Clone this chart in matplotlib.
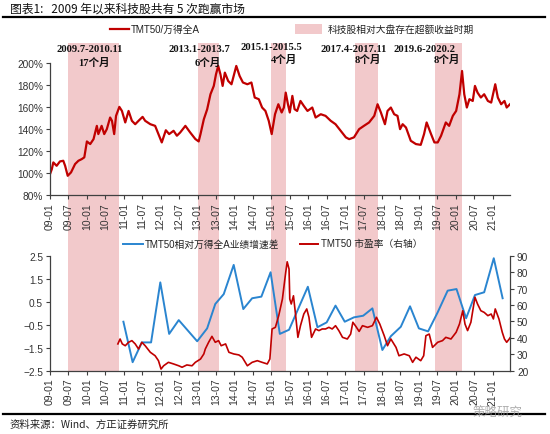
import matplotlib
matplotlib.use("Agg")
import matplotlib.pyplot as plt
from matplotlib.lines import Line2D
from matplotlib.patches import Rectangle

plt.rcParams['font.family'] = ['Liberation Sans', 'Noto Sans CJK SC', 'DejaVu Sans']

# ---------------- data ----------------
# TMT50 / Wind All A (%), x in decimal years
ratio_t = [2009.00, 2009.05, 2009.09, 2009.18, 2009.27, 2009.36, 2009.41, 2009.48, 2009.57, 2009.68,
           2009.77, 2009.86, 2009.93, 2010.00, 2010.09, 2010.18, 2010.27, 2010.31, 2010.40, 2010.47,
           2010.54, 2010.63, 2010.68, 2010.74, 2010.79, 2010.88, 2010.95, 2011.04, 2011.13, 2011.22,
           2011.31, 2011.40, 2011.51, 2011.58, 2011.72, 2011.85, 2011.94, 2012.03, 2012.14, 2012.23,
           2012.35, 2012.44, 2012.53, 2012.67, 2012.80, 2012.94, 2013.03, 2013.08, 2013.17, 2013.26,
           2013.35, 2013.44, 2013.50, 2013.56, 2013.62, 2013.68, 2013.74, 2013.83, 2013.92, 2013.98,
           2014.05, 2014.14, 2014.23, 2014.35, 2014.46, 2014.55, 2014.66, 2014.75, 2014.84, 2014.93,
           2015.01, 2015.10, 2015.19, 2015.28, 2015.34, 2015.39, 2015.45, 2015.50, 2015.57, 2015.63,
           2015.70, 2015.79, 2015.88, 2015.98, 2016.11, 2016.20, 2016.34, 2016.47, 2016.61, 2016.74,
           2016.88, 2017.02, 2017.11, 2017.24, 2017.38, 2017.51, 2017.65, 2017.79, 2017.88, 2017.97,
           2018.08, 2018.15, 2018.24, 2018.33, 2018.42, 2018.49, 2018.56, 2018.65, 2018.78, 2018.92,
           2019.05, 2019.14, 2019.21, 2019.33, 2019.42, 2019.51, 2019.60, 2019.73, 2019.82, 2019.92,
           2020.01, 2020.10, 2020.17, 2020.23, 2020.30, 2020.37, 2020.46, 2020.52, 2020.59, 2020.68,
           2020.77, 2020.87, 2020.96, 2021.07, 2021.14, 2021.23, 2021.32, 2021.38, 2021.47]
ratio_v = [99.0, 103.6, 109.7, 106.6, 110.6, 111.2, 106.6, 97.5, 100.6, 108.2,
           111.2, 112.7, 114.3, 128.8, 126.4, 130.9, 143.0, 135.5, 143.0, 135.5,
           140.0, 150.6, 147.6, 135.5, 152.1, 160.3, 156.6, 146.1, 156.6, 147.6,
           144.5, 147.6, 151.2, 147.6, 144.5, 143.0, 135.5, 127.9, 139.0, 135.5,
           138.5, 134.0, 137.0, 143.0, 137.0, 131.0, 128.8, 135.5, 149.0, 158.0,
           171.8, 179.4, 190.0, 197.6, 190.0, 179.4, 191.5, 183.9, 180.9, 188.5,
           197.6, 188.5, 182.5, 180.9, 182.5, 168.8, 167.3, 159.7, 156.6, 147.6,
           135.5, 153.6, 162.7, 155.2, 159.7, 173.3, 162.7, 155.2, 170.3, 158.2,
           156.6, 165.7, 161.2, 156.6, 159.7, 150.6, 153.6, 152.1, 147.6, 144.5,
           138.5, 132.5, 130.9, 132.5, 140.0, 143.0, 146.1, 152.1, 162.7, 155.2,
           144.5, 156.6, 159.7, 153.6, 152.1, 140.0, 144.5, 141.5, 129.4, 126.4,
           125.7, 135.5, 146.1, 135.5, 127.9, 127.9, 133.9, 146.1, 143.0, 152.1,
           156.6, 171.8, 193.0, 171.8, 159.7, 167.3, 165.7, 179.4, 173.3, 168.8,
           171.8, 165.7, 164.2, 180.9, 168.8, 162.7, 165.7, 159.7, 162.7]

# Earnings growth gap (left axis), quarterly
gap_t = [2010.99, 2011.24, 2011.49, 2011.74, 2011.99, 2012.23, 2012.49, 2012.74, 2012.99, 2013.26,
         2013.48, 2013.71, 2013.98, 2014.24, 2014.48, 2014.73, 2014.98, 2015.23, 2015.48, 2015.99,
         2016.25, 2016.50, 2016.74, 2016.99, 2017.24, 2017.49, 2017.74, 2018.01, 2018.24, 2018.51,
         2018.76, 2019.00, 2019.25, 2019.51, 2019.78, 2020.02, 2020.28, 2020.52, 2020.77, 2021.03,
         2021.27]
gap_v = [-0.37, -2.13, -1.27, -1.27, 1.34, -0.90, -0.30, -0.76, -1.22, -0.66,
         0.40, 0.83, 2.10, 0.18, 0.65, 0.72, 1.78, -0.90, -0.72, 1.15,
         -0.61, -0.40, 0.33, -0.37, -0.18, -0.11, 0.21, -1.60, -1.00, -0.59,
         0.30, -0.66, -0.79, 0.04, 0.98, 1.05, -0.22, 0.79, 0.91, 2.39,
         0.65]

# TMT50 PE (right axis)
pe_t = [2010.84, 2010.90, 2010.96, 2011.04, 2011.13, 2011.22, 2011.31, 2011.40, 2011.49, 2011.58,
        2011.72, 2011.85, 2011.94, 2012.01, 2012.08, 2012.21, 2012.35, 2012.49, 2012.58, 2012.71,
        2012.85, 2012.94, 2013.08, 2013.17, 2013.21, 2013.30, 2013.39, 2013.48, 2013.57, 2013.64,
        2013.76, 2013.85, 2013.98, 2014.12, 2014.21, 2014.35, 2014.48, 2014.62, 2014.75, 2014.89,
        2014.96, 2015.02, 2015.11, 2015.20, 2015.30, 2015.39, 2015.43, 2015.48, 2015.50, 2015.54,
        2015.60, 2015.66, 2015.72, 2015.79, 2015.88, 2015.96, 2016.02, 2016.09, 2016.20, 2016.29,
        2016.38, 2016.47, 2016.56, 2016.65, 2016.74, 2016.83, 2016.93, 2017.06, 2017.15, 2017.21,
        2017.29, 2017.38, 2017.47, 2017.61, 2017.74, 2017.85, 2017.94, 2018.06, 2018.15, 2018.24,
        2018.38, 2018.46, 2018.60, 2018.74, 2018.83, 2018.92, 2019.05, 2019.13, 2019.19, 2019.28,
        2019.37, 2019.51, 2019.64, 2019.73, 2019.87, 2020.01, 2020.10, 2020.19, 2020.25, 2020.32,
        2020.41, 2020.52, 2020.59, 2020.68, 2020.77, 2020.87, 2020.96, 2021.02, 2021.07, 2021.17,
        2021.26, 2021.32, 2021.38, 2021.45, 2021.47]
pe_v = [36.3, 39.3, 36.3, 35.2, 37.3, 38.3, 36.3, 33.2, 37.3, 35.2,
        31.2, 29.1, 26.1, 21.0, 23.0, 25.1, 24.1, 23.0, 22.1, 23.5,
        23.0, 25.1, 27.1, 30.2, 33.2, 37.3, 40.9, 37.3, 38.3, 35.2,
        36.3, 31.2, 30.2, 29.6, 28.2, 23.0, 25.1, 26.1, 25.1, 24.1,
        27.1, 45.4, 46.4, 53.5, 63.6, 79.9, 86.3, 81.9, 63.6, 60.6,
        65.6, 53.5, 40.3, 47.4, 54.5, 57.6, 52.5, 40.3, 45.4, 44.4,
        45.4, 45.4, 46.4, 45.4, 47.4, 44.4, 40.3, 39.3, 42.3, 49.5,
        47.0, 43.9, 47.4, 46.4, 47.4, 52.5, 48.4, 41.3, 35.2, 39.3,
        34.2, 29.1, 30.2, 29.1, 25.1, 28.2, 26.1, 29.1, 41.3, 42.3,
        34.2, 37.3, 38.3, 40.3, 39.3, 43.4, 48.4, 56.5, 48.4, 44.4,
        49.5, 64.7, 60.6, 56.5, 55.5, 53.5, 54.5, 51.5, 57.6, 51.5,
        43.4, 39.3, 37.3, 39.3, 40.0]

# Periods when tech outperformed
periods = [(2009.50, 2010.88), (2013.00, 2013.58), (2015.00, 2015.41),
           (2017.27, 2017.89), (2019.43, 2020.16)]
period_labels = ["2009.7-2010.11", "2013.1-2013.7", "2015.1-2015.5", "2017.4-2017.11", "2019.6-2020.2"]
period_months = ["17个月", "6个月", "4个月", "8个月", "8个月"]

tick_pos = [2009 + 0.5 * i for i in range(25)]
tick_labels = [f"{int(p) % 100:02d}-{'01' if p == int(p) else '07'}" for p in tick_pos]

# ---------------- layout ----------------
W, H = 550, 435
fig = plt.figure(figsize=(5.5, 4.35), dpi=100)
fig.patch.set_facecolor('white')

def fr(x0, y0, x1, y1):
    return [x0 / W, 1 - y1 / H, (x1 - x0) / W, (y1 - y0) / H]

XMIN, XMAX = 2009.0, 2021.47
RED = '#C00000'
BLUE = '#2A85D0'
PINK = '#F2C9CB'
SPINE = '#404040'

# background shading across both panels
bg = fig.add_axes(fr(50, 44, 510, 372), zorder=0)
bg.set_xlim(XMIN, XMAX)
bg.set_ylim(0, 1)
bg.axis('off')
for a, b in periods:
    bg.axvspan(a, b, color=PINK, lw=0)

# top panel
ax1 = fig.add_axes(fr(50, 64.3, 510, 196), zorder=2)
ax1.patch.set_alpha(0)
ax1.plot(ratio_t, ratio_v, color=RED, lw=1.6, solid_joinstyle='round')
ax1.set_xlim(XMIN, XMAX)
ax1.set_ylim(80, 200)
ax1.set_yticks(range(80, 201, 20))
ax1.set_yticklabels([f"{v}%" for v in range(80, 201, 20)])
ax1.set_xticks(tick_pos)
ax1.set_xticklabels(tick_labels, rotation=90)
for s in ['top', 'right']:
    ax1.spines[s].set_visible(False)

# lower panel
ax2 = fig.add_axes(fr(50, 256.7, 510, 371.7), zorder=2)
ax2.patch.set_alpha(0)
ax2r = ax2.twinx()
ax2r.patch.set_alpha(0)
ax2.plot(gap_t, gap_v, color=BLUE, lw=1.4, zorder=3)
ax2r.plot(pe_t, pe_v, color=RED, lw=1.2)
ax2.set_xlim(XMIN, XMAX)
ax2.set_ylim(-2.5, 2.5)
ax2.set_yticks([-2.5, -1.5, -0.5, 0.5, 1.5, 2.5])
ax2r.set_ylim(20, 90)
ax2r.set_yticks(range(20, 91, 10))
ax2.set_xticks(tick_pos)
ax2.set_xticklabels(tick_labels, rotation=90)
ax2.spines['top'].set_visible(False)
ax2r.spines['top'].set_visible(False)
ax2.spines['right'].set_visible(False)
ax2r.spines['left'].set_visible(False)
ax2r.spines['bottom'].set_visible(False)

for ax in (ax1, ax2, ax2r):
    for s in ax.spines.values():
        s.set_color(SPINE)
        s.set_linewidth(0.9)
    ax.tick_params(colors=SPINE, length=3, width=0.8, direction='out', labelcolor='#333333')
    ax.tick_params(axis='y', labelsize=7.3, pad=2)
    ax.tick_params(axis='x', labelsize=7.5, pad=2)

# ---------------- annotations ----------------
ann_font = ['Liberation Serif', 'Noto Sans CJK SC']
label_x = [89.5, 199, 271, 354, 425]
month_x = [93.5, 208, 284, 368, 447]
label_y = [50, 50, 47.7, 50, 50]
month_y = [63, 63, 59.5, 60, 60]
for i in range(len(periods)):
    fig.text(label_x[i] / W, 1 - label_y[i] / H, period_labels[i], ha='center', va='center',
             fontsize=7.6, fontweight='bold', family=ann_font, color='#111111', zorder=5)
    fig.text(month_x[i] / W, 1 - month_y[i] / H, period_months[i], ha='center', va='center',
             fontsize=7.6, fontweight='bold', family=ann_font, color='#111111', zorder=5)

# title
fig.text(10 / W, 1 - 9 / H, "图表1:   2009 年以来科技股共有 5 次跑赢市场", ha='left', va='center',
         fontsize=8.5, family=['Noto Sans CJK SC', 'DejaVu Sans'], color='#111111')
fig.add_artist(Line2D([3 / W, 545 / W], [1 - 18 / H, 1 - 18 / H], color='black', lw=1.6))
fig.add_artist(Line2D([3 / W, 545 / W], [1 - 415 / H, 1 - 415 / H], color='black', lw=1.6))
fig.text(10 / W, 1 - 425 / H, "资料来源：Wind、方正证券研究所", ha='left', va='center',
         fontsize=7.5, style='italic', family=['Noto Sans CJK SC', 'DejaVu Sans'], color='#222222')
fig.text(498 / W, 1 - 413 / H, "策略研究", ha='center', va='center', fontsize=9,
         family=['Noto Sans CJK SC'], color='#9a9a9a', alpha=0.8)

# top legend
fig.add_artist(Line2D([110 / W, 129 / W], [1 - 30 / H, 1 - 30 / H], color=RED, lw=1.6))
fig.text(131 / W, 1 - 30 / H, "TMT50/万得全A", ha='left', va='center', fontsize=7,
         family=['Liberation Sans', 'Noto Sans CJK SC'], color='#222222')
fig.add_artist(Rectangle((295 / W, 1 - 35 / H), 27 / W, 10 / H, transform=fig.transFigure,
                         facecolor=PINK, edgecolor='none'))
fig.text(328 / W, 1 - 30 / H, "科技股相对大盘存在超额收益时期", ha='left', va='center', fontsize=7,
         family=['Noto Sans CJK SC'], color='#222222')

# lower legend
fig.add_artist(Line2D([123 / W, 143 / W], [1 - 244.5 / H, 1 - 244.5 / H], color=BLUE, lw=1.4, zorder=6))
fig.text(145 / W, 1 - 244.5 / H, "TMT50相对万得全A业绩增速差", ha='left', va='center', fontsize=7,
         family=['Liberation Sans', 'Noto Sans CJK SC'], color='#222222', zorder=6)
fig.add_artist(Line2D([300 / W, 318 / W], [1 - 244.5 / H, 1 - 244.5 / H], color=RED, lw=1.4, zorder=6))
fig.text(321 / W, 1 - 244.5 / H, "TMT50 市盈率（右轴）", ha='left', va='center', fontsize=7,
         family=['Liberation Sans', 'Noto Sans CJK SC'], color='#222222', zorder=6)

fig.savefig("out.png", dpi=100, facecolor='white')
